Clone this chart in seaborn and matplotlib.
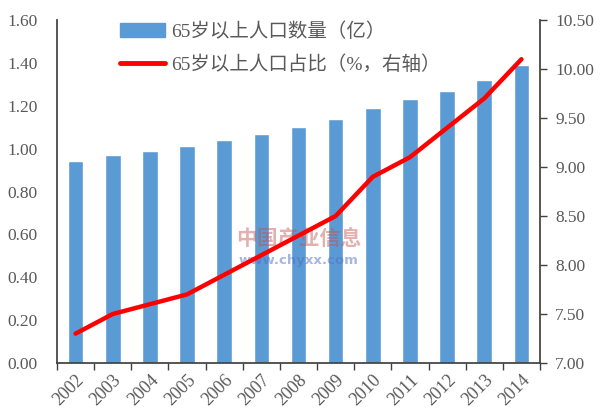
import numpy as np
import matplotlib
matplotlib.use("Agg")
import matplotlib.pyplot as plt
import seaborn as sns
from matplotlib.lines import Line2D
from matplotlib.patches import Patch

years = ["2002", "2003", "2004", "2005", "2006", "2007", "2008",
         "2009", "2010", "2011", "2012", "2013", "2014"]
pop_65 = [0.94, 0.97, 0.99, 1.01, 1.04, 1.07, 1.10, 1.14, 1.19, 1.23, 1.27, 1.32, 1.39]
ratio_65 = [7.3, 7.5, 7.6, 7.7, 7.9, 8.1, 8.3, 8.5, 8.9, 9.1, 9.4, 9.7, 10.1]
left_ticks = [0.00, 0.20, 0.40, 0.60, 0.80, 1.00, 1.20, 1.40, 1.60]
right_ticks = [7.00, 7.50, 8.00, 8.50, 9.00, 9.50, 10.00, 10.50]
label_bar = "65岁以上人口数量（亿）"
label_line = "65岁以上人口占比（%，右轴）"

sns.set_theme(style="white")
plt.rcParams['font.family'] = ['Liberation Serif', 'Noto Sans CJK SC', 'DejaVu Sans']

fig = plt.figure(figsize=(6.0, 4.16), dpi=100)
ax = fig.add_axes([0.095, 0.1274, 0.805, 0.8245])

bar_color = "#5B9BD5"
sns.barplot(x=years, y=pop_65, color=bar_color, width=0.42, ax=ax, saturation=1)
ax.set_xlim(-0.5, len(years) - 0.5)
ax.set_ylim(0, 1.6)
ax.set_yticks(left_ticks)
ax.set_yticklabels([f"{v:.2f}" for v in left_ticks])
ax.set_xlabel("")
ax.set_ylabel("")

ax2 = ax.twinx()
x_pos = np.arange(len(years))
sns.lineplot(x=x_pos, y=ratio_65, color="#FF0000", linewidth=3.2, ax=ax2)
ax2.set_ylim(7.0, 10.5)
ax2.set_yticks(right_ticks)
ax2.set_yticklabels([f"{v:.2f}" for v in right_ticks])
ax2.set_ylabel("")
ax2.set_xlim(-0.5, len(years) - 0.5)

grey = "#595959"
spine_c = "#404040"
for a in (ax, ax2):
    for s in a.spines.values():
        s.set_visible(False)
ax.spines['left'].set_visible(True)
ax.spines['left'].set_color(spine_c)
ax.spines['bottom'].set_visible(True)
ax.spines['bottom'].set_color(spine_c)
ax2.spines['right'].set_visible(True)
ax2.spines['right'].set_color(spine_c)

ax.tick_params(axis='y', left=False, labelsize=12.5, labelcolor=grey, pad=8)
ax.set_xticks(x_pos)
ax.set_xticklabels(years, rotation=45, ha='right', rotation_mode='anchor')
ax.tick_params(axis='x', which='major', length=0, labelsize=13, labelcolor=grey, pad=6)
ax.set_xticks(np.arange(-0.5, len(years)), minor=True)
ax.tick_params(axis='x', which='minor', bottom=True, length=5, width=1, color=spine_c)
ax2.tick_params(axis='y', right=True, length=5, width=1, color=spine_c,
                labelsize=12.5, labelcolor=grey, pad=6)

# watermark
ax.text(0.5, 0.36, "中国产业信息", transform=ax.transAxes, ha='center', va='center',
        fontsize=15, color="#C0504D", alpha=0.45, family=['Noto Sans CJK SC'], fontweight='bold')
ax.text(0.5, 0.30, "www.chyxx.com", transform=ax.transAxes, ha='center', va='center',
        fontsize=9.5, color="#4F6FC0", alpha=0.5, family=['DejaVu Sans'], fontweight='bold')

handles = [Patch(facecolor=bar_color, edgecolor=bar_color),
           Line2D([0], [0], color="#FF0000", linewidth=3.5)]
leg = ax.legend(handles, [label_bar, label_line], loc='upper left',
                bbox_to_anchor=(0.095, 1.045), frameon=False, fontsize=14,
                handlelength=2.3, handleheight=0.7, labelspacing=0.75, handletextpad=0.3)
for t in leg.get_texts():
    t.set_color(grey)

fig.savefig("out.png", dpi=100)
